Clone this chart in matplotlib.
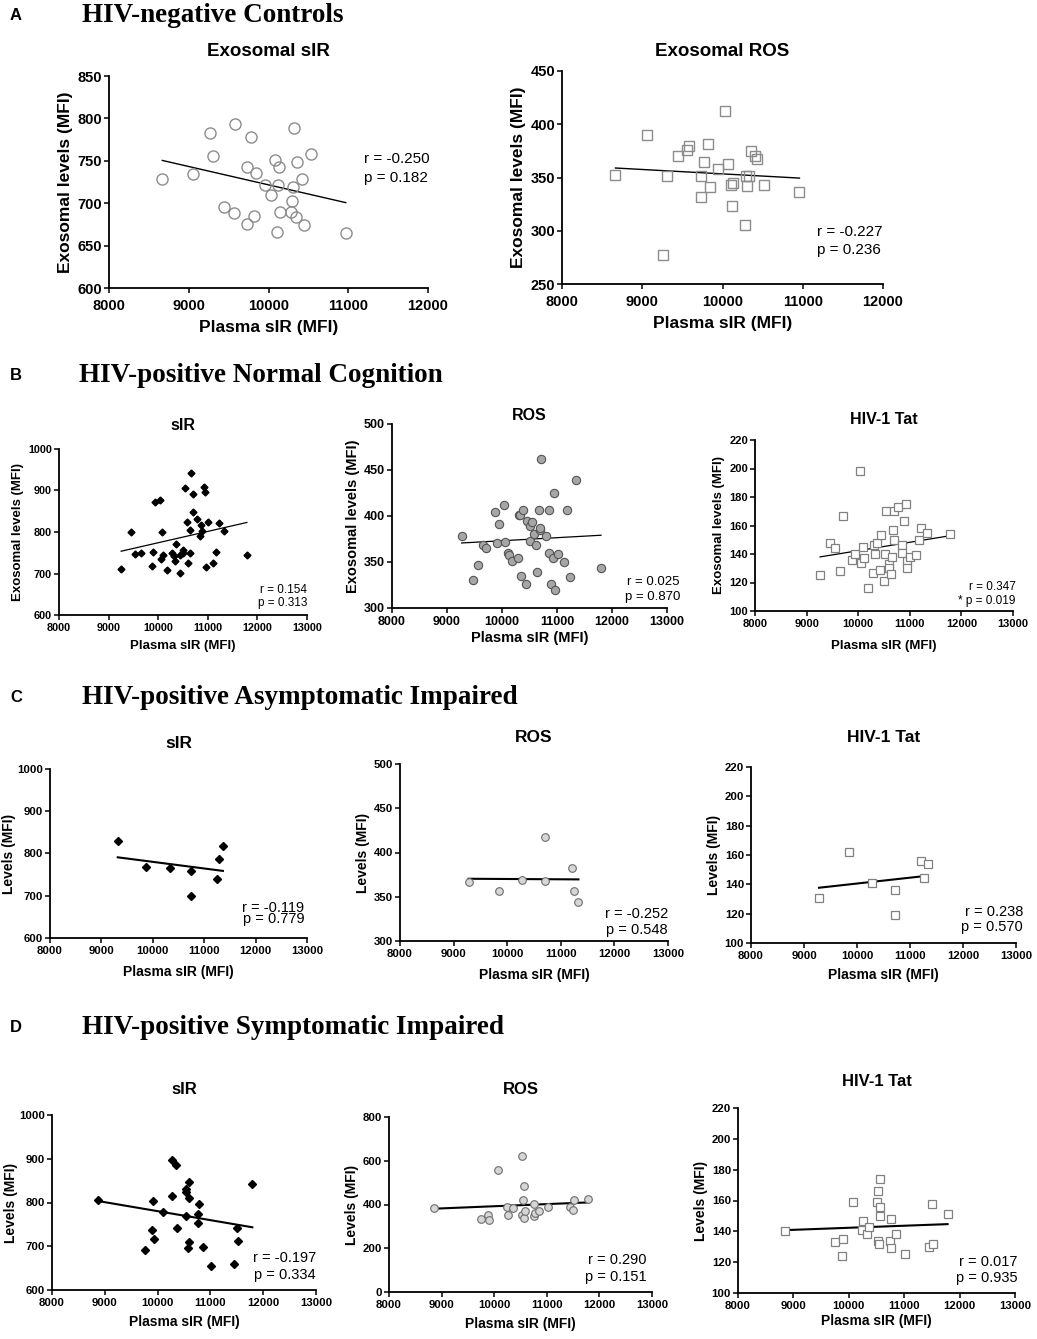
import numpy as np
import matplotlib.pyplot as plt

plt.rcParams['font.family'] = ['Liberation Sans', 'DejaVu Sans']

# A: HIV-negative controls
a_sir_x = [8669, 9053, 9262, 9308, 9584, 9446, 9563, 9776, 9730, 9847, 9818, 9730, 9952, 10036, 10082,
           10132, 10123, 10148, 10107, 10320, 10353, 10529, 10420, 10307, 10299, 10286, 10341, 10445, 10968]
a_sir_y = [728, 735, 783, 756, 793, 695, 688, 778, 743, 736, 685, 676, 721, 710, 751,
           743, 721, 690, 666, 789, 749, 758, 728, 719, 703, 690, 684, 674, 665]
a_ros_x = [8666, 9061, 9307, 9253, 9444, 9557, 9582, 9729, 9773, 9815, 9729, 9844, 9948, 10027,
           10073, 10102, 10135, 10119, 10289, 10302, 10335, 10352, 10410, 10435, 10518, 10285, 10959]
a_ros_y = [352, 390, 351, 277, 370, 376, 380, 351, 365, 381, 332, 341, 358, 412,
           363, 343, 345, 323, 351, 342, 351, 375, 370, 367, 343, 305, 336]

# B: HIV-positive normal cognition
b_sir_x = [9253, 9449, 9536, 9644, 9894, 9880, 9927, 10035, 10082, 10055, 10102, 10170, 10278, 10311,
           10338, 10365, 10432, 10446, 10500, 10506, 10540, 10580, 10635, 10594, 10648, 10668, 10695,
           10695, 10782, 10856, 10843, 10890, 10924, 10937, 10957, 11011, 11112, 11166, 11226, 11335, 11787]
b_sir_y = [712, 800, 747, 750, 753, 717, 873, 877, 800, 736, 744, 708, 749, 742,
           731, 771, 702, 745, 757, 749, 907, 825, 749, 726, 804, 943, 891,
           847, 831, 818, 791, 802, 908, 896, 716, 825, 725, 752, 822, 803, 744]
b_ros_x = [9267, 9467, 9558, 9655, 9715, 9879, 9903, 9945, 10042, 10061, 10109, 10133, 10182, 10291,
           10315, 10333, 10352, 10376, 10442, 10455, 10503, 10515, 10552, 10588, 10612, 10642, 10667,
           10685, 10697, 10709, 10794, 10855, 10855, 10891, 10945, 10933, 10958, 11018, 11127, 11188,
           11230, 11352, 11800]
b_ros_y = [378, 330, 347, 369, 365, 404, 371, 391, 412, 372, 360, 358, 351, 354,
           401, 401, 335, 407, 326, 395, 389, 373, 393, 380, 369, 339, 407,
           385, 387, 462, 378, 406, 360, 326, 425, 354, 320, 359, 350, 407,
           334, 439, 343]
b_tat_x = [9261, 9455, 9552, 9650, 9708, 9876, 9934, 10037, 10057, 10102, 10109, 10283, 10303, 10335,
           10374, 10432, 10445, 10503, 10510, 10542, 10588, 10588, 10633, 10653, 10672, 10685, 10698,
           10776, 10840, 10840, 10879, 10918, 10944, 10944, 11008, 11111, 11170, 11221, 11338, 11784, 10186]
b_tat_y = [125, 148, 144, 128, 167, 136, 140, 198, 134, 145, 137, 127, 146, 140,
           148, 129, 153, 121, 140, 170, 133, 130, 126, 138, 157, 150, 170,
           173, 146, 141, 163, 175, 135, 130, 138, 139, 150, 158, 155, 154, 116]

# C: HIV-positive asymptomatic impaired
c_sir_x = [9318, 9877, 10325, 10734, 10740, 11247, 11292, 11364]
c_sir_y = [830, 769, 766, 758, 699, 739, 787, 817]
c_ros_x = [9280, 9839, 10280, 10702, 10708, 11211, 11255, 11329]
c_ros_y = [367, 356, 369, 417, 368, 382, 356, 344]
c_tat_x = [9283, 9843, 10289, 10711, 10717, 11214, 11270, 11333]
c_tat_y = [131, 162, 141, 136, 119, 156, 144, 154]

# D: HIV-positive symptomatic impaired
d_sir_x = [8871, 9768, 9900, 9919, 9938, 10096, 10266, 10279, 10348, 10374, 10538, 10544, 10544,
           10570, 10588, 10588, 10595, 10778, 10771, 10771, 10866, 11018, 11453, 11504, 11523, 11794]
d_sir_y = [805, 691, 737, 803, 716, 778, 814, 898, 886, 741, 824, 832, 770,
           697, 848, 810, 710, 797, 774, 754, 699, 656, 659, 742, 711, 842]
d_ros_x = [8857, 9751, 9878, 9904, 10081, 10246, 10259, 10348, 10520, 10533, 10539, 10565,
           10558, 10577, 10749, 10749, 10768, 10844, 11015, 11447, 11504, 11516, 11789]
d_ros_y = [383, 332, 353, 327, 558, 390, 350, 385, 350, 621, 422, 485,
           338, 370, 401, 347, 363, 372, 387, 387, 376, 420, 427]
d_tat_x = [8855, 9747, 9904, 9886, 10078, 10235, 10259, 10331, 10367, 10512, 10530, 10572, 10560,
           10566, 10530, 10554, 10747, 10753, 10765, 10843, 11012, 11440, 11512, 11500, 11783]
d_tat_y = [140, 133, 135, 124, 159, 141, 147, 138, 143, 159, 166, 174, 156,
           150, 134, 132, 134, 129, 148, 138, 125, 130, 132, 158, 151]

W, H = 1037, 1339
fig = plt.figure(figsize=(W / 100, H / 100), dpi=100)

diamond = dict(marker='D', ms=3.5, color='black')
diamond_big = dict(marker='D', ms=3.8, color='black')
circ_open = dict(marker='o', ms=8, mfc='none', mec='#8c8c8c', mew=1.0)
sq_open = dict(marker='s', ms=7, mfc='none', mec='#8c8c8c', mew=1.0)
circ_b = dict(marker='o', ms=6, mfc='#a6a6a6', mec='#555555', mew=0.8)
sq_b = dict(marker='s', ms=5.5, mfc='white', mec='#808080', mew=0.9)
circ_c = dict(marker='o', ms=5.5, mfc='#d6d6d6', mec='#6e6e6e', mew=0.8)
sq_c = dict(marker='s', ms=5.5, mfc='white', mec='#808080', mew=0.9)


def panel(box, x, y, xticks, yticks, style, title, title_y, ylabel, stats, stats_at, fs,
          lw=1.0, tpad=2.5, lpad=5, ypad=3):
    l, t, r, b = box
    ax = fig.add_axes([l / W, 1 - b / H, (r - l) / W, (b - t) / H])
    ax.plot(x, y, linestyle='none', clip_on=False, zorder=3, **style)
    k, c = np.polyfit(x, y, 1)
    xs = np.array([min(x), max(x)])
    ax.plot(xs, k * xs + c, color='black', lw=lw, zorder=2)
    ax.set_xlim(xticks[0], xticks[-1])
    ax.set_ylim(yticks[0], yticks[-1])
    ax.set_xticks(xticks)
    ax.set_yticks(yticks)
    for s in ['top', 'right']:
        ax.spines[s].set_visible(False)
    for s in ['left', 'bottom']:
        ax.spines[s].set_linewidth(1.3)
    tick_fs, label_fs, title_fs, stat_fs = fs
    ax.tick_params(labelsize=tick_fs, width=1.1, length=3.5, pad=tpad)
    ax.tick_params(axis='y', pad=1.5)
    for lab in ax.get_xticklabels() + ax.get_yticklabels():
        lab.set_fontweight('bold')
    ax.set_xlabel('Plasma sIR (MFI)', fontsize=label_fs, fontweight='bold', labelpad=lpad)
    ax.set_ylabel(ylabel, fontsize=label_fs, fontweight='bold', labelpad=ypad)
    fig.text((l + r) / 2 / W, 1 - title_y / H, title, ha='center', va='center',
             fontsize=title_fs, fontweight='bold')
    sx, ry, py, ha = stats_at
    ax.text(sx, ry, stats[0], transform=ax.transAxes, ha=ha, va='center', fontsize=stat_fs)
    ax.text(sx, py, stats[1], transform=ax.transAxes, ha=ha, va='center', fontsize=stat_fs)
    return ax


x12 = [8000, 9000, 10000, 11000, 12000]
x13 = [8000, 9000, 10000, 11000, 12000, 13000]
fs_a = (10.5, 12.5, 13.5, 11)

panel((109, 76, 428, 288), a_sir_x, a_sir_y, x12, [600, 650, 700, 750, 800, 850], circ_open,
      'Exosomal sIR', 52, 'Exosomal levels (MFI)', ('r = -0.250', 'p = 0.182'),
      (0.80, 0.61, 0.52, 'left'), fs_a, tpad=4.5, lpad=5)
panel((562, 71, 883, 284), a_ros_x, a_ros_y, x12, [250, 300, 350, 400, 450], sq_open,
      'Exosomal ROS', 52, 'Exosomal levels (MFI)', ('r = -0.227', 'p = 0.236'),
      (0.795, 0.245, 0.16, 'left'), fs_a, tpad=4.5, lpad=5)

panel((59, 449, 307, 615), b_sir_x, b_sir_y, x13, [600, 700, 800, 900, 1000], diamond,
      'sIR', 425, 'Exosomal levels (MFI)', ('r = 0.154', 'p = 0.313'),
      (1.0, 0.15, 0.07, 'right'), (7.8, 9.5, 11.5, 8.5), lw=0.9, lpad=5)
panel((392, 424, 667, 608), b_ros_x, b_ros_y, x13, [300, 350, 400, 450, 500], circ_b,
      'ROS', 415, 'Exosomal levels (MFI)', ('r = 0.025', 'p = 0.870'),
      (1.047, 0.14, 0.06, 'right'), (9, 10.5, 11.5, 9.5), lw=0.9, lpad=2)
panel((755, 440, 1013, 611), b_tat_x, b_tat_y, x13, [100, 120, 140, 160, 180, 200, 220], sq_b,
      'HIV-1 Tat', 419, 'Exosomal levels (MFI)', ('r = 0.347', '* p = 0.019'),
      (1.01, 0.14, 0.06, 'right'), (8, 9.5, 11.5, 8.5), lw=0.9, lpad=8)

fs_c = (8.2, 10, 12.5, 10.5)
panel((50, 769, 307, 938), c_sir_x, c_sir_y, x13, [600, 700, 800, 900, 1000], diamond_big,
      'sIR', 743, 'Levels (MFI)', ('r = -0.119', 'p = 0.779'),
      (0.99, 0.18, 0.11, 'right'), fs_c, lw=1.5, lpad=6, ypad=1)
panel((400, 764, 668, 941), c_ros_x, c_ros_y, x13, [300, 350, 400, 450, 500], circ_c,
      'ROS', 737, 'Levels (MFI)', ('r = -0.252', 'p = 0.548'),
      (1.0, 0.15, 0.06, 'right'), fs_c, lw=1.5, lpad=6)
panel((751, 767, 1016, 943), c_tat_x, c_tat_y, x13, [100, 120, 140, 160, 180, 200, 220], sq_c,
      'HIV-1 Tat', 738, 'Levels (MFI)', ('r = 0.238', 'p = 0.570'),
      (1.026, 0.176, 0.09, 'right'), fs_c, lw=1.5, lpad=5)

fs_d = (8.2, 10, 12, 10.5)
panel((52, 1115, 316, 1290), d_sir_x, d_sir_y, x13, [600, 700, 800, 900, 1000], diamond_big,
      'sIR', 1089, 'Levels (MFI)', ('r = -0.197', 'p = 0.334'),
      (1.0, 0.18, 0.086, 'right'), fs_d, lw=1.5, lpad=5, ypad=1)
panel((389, 1117, 652, 1292), d_ros_x, d_ros_y, x13, [0, 200, 400, 600, 800], circ_c,
      'ROS', 1090, 'Levels (MFI)', ('r = 0.290', 'p = 0.151'),
      (0.98, 0.18, 0.085, 'right'), fs_d, lw=1.5, lpad=5)
panel((738, 1108, 1015, 1293), d_tat_x, d_tat_y, x13, [100, 120, 140, 160, 180, 200, 220], sq_c,
      'HIV-1 Tat', 1081, 'Levels (MFI)', ('r = 0.017', 'p = 0.935'),
      (1.01, 0.17, 0.08, 'right'), fs_d, lw=1.5, lpad=2)

# section letters and headings
headings = [('A', 15, 82, 'HIV-negative Controls'),
            ('B', 375, 79, 'HIV-positive Normal Cognition'),
            ('C', 698, 82, 'HIV-positive Asymptomatic Impaired'),
            ('D', 1027, 82, 'HIV-positive Symptomatic Impaired')]
for letter, yy, hx, text in headings:
    fig.text(10 / W, 1 - yy / H, letter, ha='left', va='center', fontsize=12, fontweight='bold')
    fig.text(hx / W, 1 - yy / H, text, ha='left', va='center', fontsize=19.5,
             fontweight='bold', family='Liberation Serif')

fig.savefig('out.png', dpi=100)
